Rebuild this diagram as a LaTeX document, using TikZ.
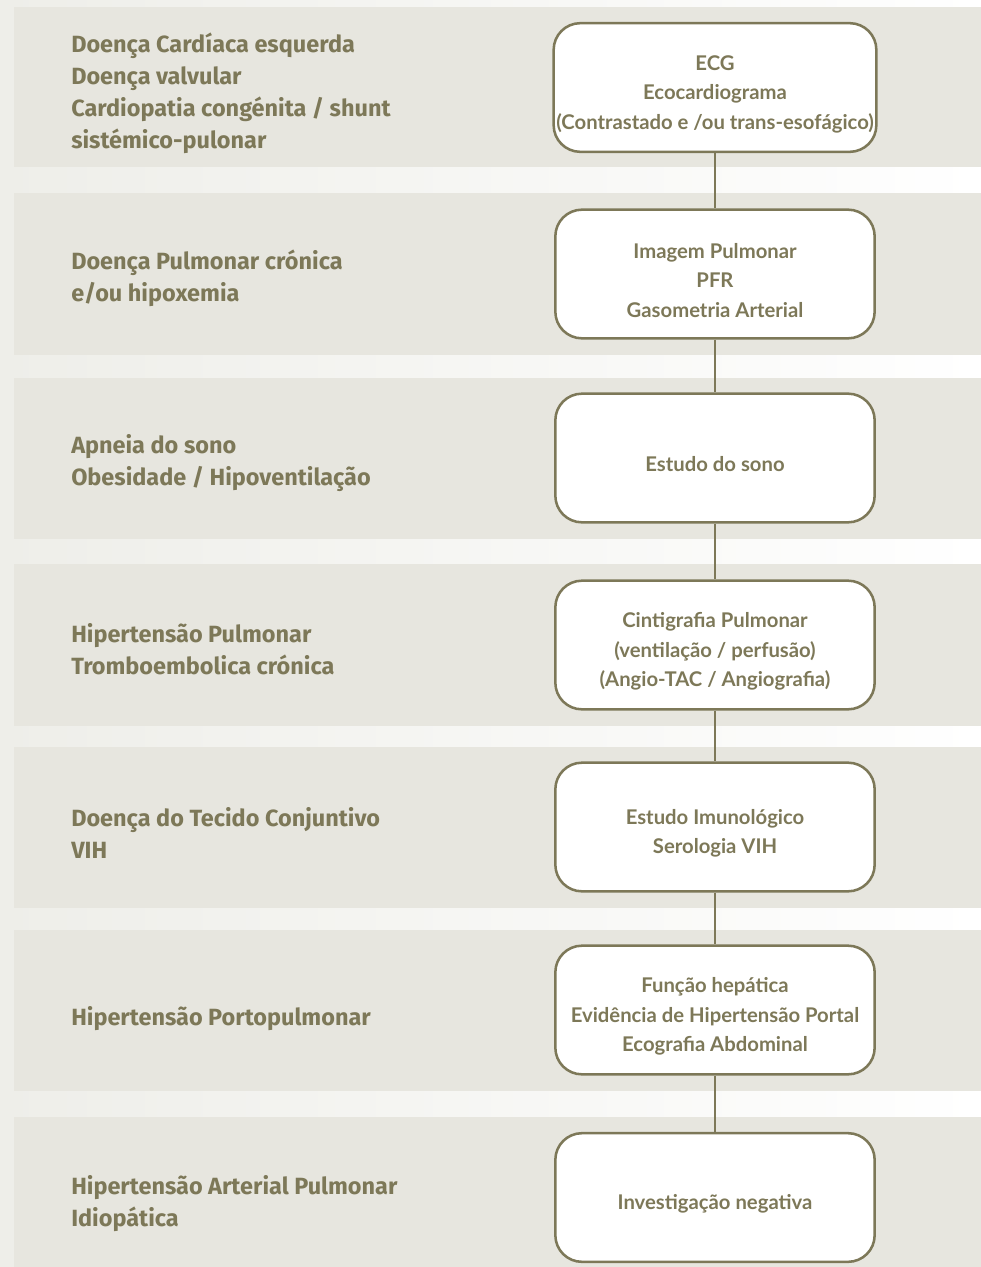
\documentclass[tikz,border=0pt]{standalone}
\usepackage{fontspec}
\setmainfont{Lato}
\newfontfamily\causefont{Fira Sans}
\usepackage{tikz}
\usetikzlibrary{positioning}
\definecolor{olive}{HTML}{7D7858}
\definecolor{bandbg}{HTML}{E7E6DF}
\definecolor{gapbg}{HTML}{EEEEE9}
\newcommand{\examgap}{\rule{0pt}{21pt}}
\tikzset{
  every node/.style={text=olive},
  band/.style={fill=bandbg,draw=none},
  cause/.style={anchor=west,align=left,inner sep=0pt,font=\causefont\bfseries\fontsize{17.6}{24}\selectfont},
  exam/.style={draw=olive,line width=1.9pt,rounded corners=20pt,fill=white,minimum width=239.5pt,minimum height=96.5pt,align=center,inner sep=2pt,font=\bfseries\fontsize{15.2}{22}\selectfont},
  link/.style={draw=olive,line width=1.5pt}
}
\begin{document}
\begin{tikzpicture}[x=0.75pt,y=-0.75pt]
  \useasboundingbox (0,0) rectangle (981,1267);
  \shade[left color=gapbg,right color=white] (0,0) rectangle (981,1267);

  % grey bands
  \fill[band] (14,7) rectangle (981,167);
  \fill[band] (14,193) rectangle (981,355);
  \fill[band] (14,378) rectangle (981,539);
  \fill[band] (14,564) rectangle (981,726);
  \fill[band] (14,747) rectangle (981,908);
  \fill[band] (14,930) rectangle (981,1091);
  \fill[band] (14,1117) rectangle (981,1267);

  % causes
  \node[cause] (cardiac) at (71,93) {Doença Cardíaca esquerda\\Doença valvular\\Cardiopatia congénita / shunt\\sistémico-pulonar};
  \node[cause] (lung) at (71,278) {Doença Pulmonar crónica\\e/ou hipoxemia};
  \node[cause] (sleep) at (71,463) {Apneia do sono\\Obesidade / Hipoventilação};
  \node[cause] (thrombo) at (71,649) {Hipertensão Pulmonar\\Tromboembolica crónica};
  \node[cause] (tissue) at (71,833) {Doença do Tecido Conjuntivo\\VIH};
  \node[cause] (porto) at (71,1019) {Hipertensão Portopulmonar};
  \node[cause] (idio) at (71,1204) {Hipertensão Arterial Pulmonar\\Idiopática};

  % exams
  \node[exam] (ecg) at (715,87.5) {\examgap ECG\\Ecocardiograma\\(Contrastado e /ou trans-esofágico)};
  \node[exam] (pfr) at (715,274) {\examgap Imagem Pulmonar\\PFR\\Gasometria Arterial};
  \node[exam] (sono) at (715,458) {\examgap Estudo do sono};
  \node[exam] (cinti) at (715,645) {\examgap Cintigrafia Pulmonar\\(ventilação / perfusão)\\(Angio-TAC / Angiografia)};
  \node[exam] (imuno) at (715,827) {\examgap Estudo Imunológico\\Serologia VIH};
  \node[exam] (hepat) at (715,1010) {\examgap Função hepática\\Evidência de Hipertensão Portal\\Ecografia Abdominal};
  \node[exam] (negat) at (715,1197.5) {\examgap Investigação negativa};

  \draw[link] (ecg) -- (pfr);
  \draw[link] (pfr) -- (sono);
  \draw[link] (sono) -- (cinti);
  \draw[link] (cinti) -- (imuno);
  \draw[link] (imuno) -- (hepat);
  \draw[link] (hepat) -- (negat);
\end{tikzpicture}
\end{document}
